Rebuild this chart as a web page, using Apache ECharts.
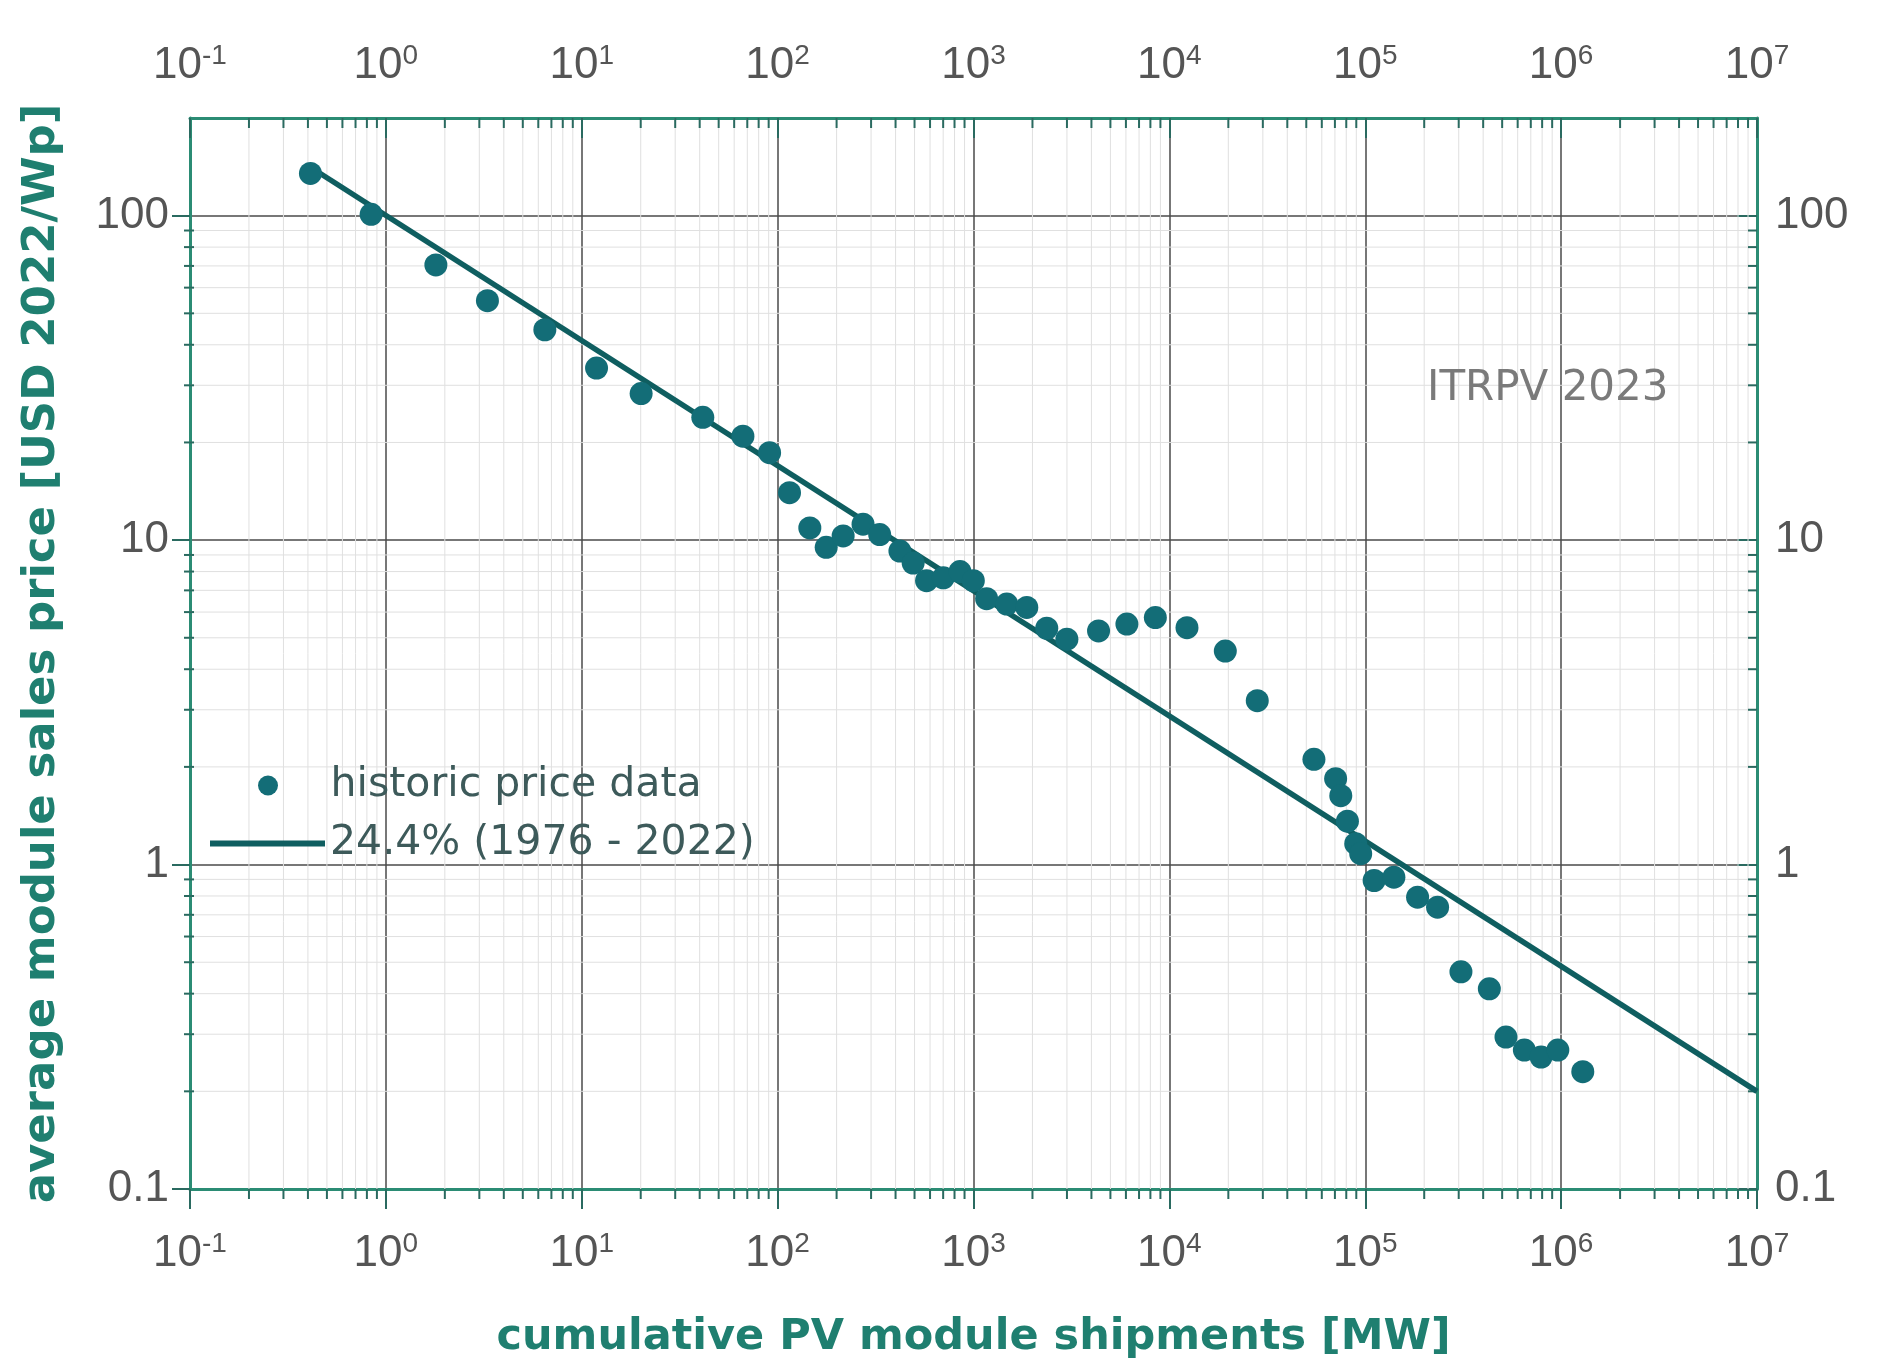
<!DOCTYPE html>
<html><head><meta charset="utf-8">
<script src="https://cdn.jsdelivr.net/npm/echarts/dist/echarts.min.js"></script>
<style>html,body{margin:0;padding:0;background:#fff}#c{width:1887px;height:1368px}</style>
</head><body><div id="c"></div>
<script>
// cumulative PV module shipments [MW]
const shipments = [0.412, 0.841, 1.80, 3.30, 6.48, 11.9, 20.1, 41.5, 66.5, 91,
  115, 146, 177, 216, 273, 332, 421, 492, 576, 701,
  853, 998, 1167, 1479, 1871, 2366, 2997, 4349, 6070, 8480,
  12300, 19300, 28100, 54700, 70600, 75000, 81100, 89400, 94800, 111000,
  140000, 185000, 234000, 308000, 430000, 523000, 649000, 790000, 962000, 1290000];
// average module sales price [USD 2022/Wp]
const prices = [135, 101, 70.5, 54.7, 44.5, 33.9, 28.3, 23.9, 20.9, 18.6,
  14.0, 10.9, 9.5, 10.3, 11.2, 10.4, 9.25, 8.5, 7.5, 7.65,
  8.0, 7.5, 6.6, 6.35, 6.2, 5.35, 4.95, 5.25, 5.51, 5.77,
  5.37, 4.55, 3.20, 2.11, 1.84, 1.63, 1.36, 1.16, 1.08, 0.893,
  0.914, 0.793, 0.739, 0.467, 0.414, 0.294, 0.268, 0.255, 0.268, 0.230];
// learning curve fit endpoints
const fitX = [0.42, 1e7];
const fitY = [140, 0.2];
const xRange = [0.1, 1e7];
const yRange = [0.1, 200];
const yTickValues = [0.1, 1, 10, 100];
const scatterName = 'historic price data';
const fitName = '24.4% (1976 - 2022)';
const watermark = 'ITRPV 2023';
const xTitle = 'cumulative PV module shipments [MW]';
const yTitle = 'average module sales price [USD 2022/Wp]';

// minor grid positions (2..9 of each decade)
const minorX = [];
for (let k = -1; k < 7; k++) for (let m = 2; m <= 9; m++) minorX.push(+(m * Math.pow(10, k)).toPrecision(3));
const minorY = [];
for (let k = -1; k < 2; k++) for (let m = 2; m <= 9; m++) minorY.push(+(m * Math.pow(10, k)).toPrecision(3));

const NARROW = "'Liberation Sans Narrow','Arial Narrow','Liberation Sans',sans-serif";
const WIDE = "'DejaVu Sans',sans-serif";
const AXIS = '#2b8c74';
const TICK = '#2a6a60';
const LABEL = '#555';
const TITLE = '#1f7f70';
const LEGEND_TEXT = {fontFamily: WIDE, fontSize: 41, color: '#3d5a5a', lineHeight: 40};

const supRich = {
  b: {fontFamily: NARROW, fontSize: 44, color: LABEL, lineHeight: 48},
  s: {fontFamily: NARROW, fontSize: 28, color: LABEL, lineHeight: 18, verticalAlign: 'top'}
};
const powFmt = v => '{b|10}{s|' + Math.round(Math.log10(v)) + '}';
const yFmt = v => {
  const e = Math.log10(v);
  if (Math.abs(e - Math.round(e)) > 1e-6) return '';
  return v < 1 ? '0.1' : String(Math.round(v));
};

const minorData = minorX.map(v => [v, 1, 0]).concat(minorY.map(v => [1, v, 1]));

function minorRender(params, api) {
  const t = api.value(2);
  const gridStyle = {stroke: '#e0e0e0', lineWidth: 1};
  const tickStyle = {stroke: TICK, lineWidth: 2};
  if (t === 0) {
    const v = api.value(0);
    const b = api.coord([v, yRange[0]]), tp = api.coord([v, yRange[1]]);
    return {type: 'group', children: [
      {type: 'line', shape: {x1: b[0], y1: b[1], x2: tp[0], y2: tp[1]}, style: gridStyle},
      {type: 'line', shape: {x1: b[0], y1: b[1], x2: b[0], y2: b[1] + 10}, style: tickStyle},
      {type: 'line', shape: {x1: tp[0], y1: tp[1], x2: tp[0], y2: tp[1] + 10}, style: tickStyle}
    ]};
  } else {
    const v = api.value(1);
    const l = api.coord([xRange[0], v]), r = api.coord([xRange[1], v]);
    return {type: 'group', children: [
      {type: 'line', shape: {x1: l[0], y1: l[1], x2: r[0], y2: r[1]}, style: gridStyle},
      {type: 'line', shape: {x1: l[0] - 6, y1: l[1], x2: l[0] + 4, y2: l[1]}, style: tickStyle},
      {type: 'line', shape: {x1: r[0], y1: r[1], x2: r[0] - 9, y2: r[1]}, style: tickStyle}
    ]};
  }
}

const chart = echarts.init(document.getElementById('c'), null, {renderer: 'canvas'});
chart.setOption({
  backgroundColor: '#ffffff',
  animation: false,
  grid: {left: 190, right: 130, top: 118, bottom: 179, containLabel: false, outerBoundsMode: 'none'},
  title: {
    text: watermark, left: 1422, top: 363,
    textStyle: {fontFamily: WIDE, fontSize: 42, fontWeight: 'normal', color: '#7a7a7a'}
  },
  legend: [{
    left: 253, top: 760, orient: 'vertical',
    itemWidth: 115, itemHeight: 20,
    textStyle: LEGEND_TEXT,
    data: [{name: scatterName, icon: 'circle'}]
  }, {
    left: 205, top: 818, orient: 'vertical',
    itemWidth: 115, itemHeight: 6,
    textStyle: LEGEND_TEXT,
    data: [{name: fitName, icon: 'rect'}]
  }],
  xAxis: [{
    type: 'log', min: xRange[0], max: xRange[1], position: 'bottom',
    name: xTitle, nameLocation: 'middle', nameGap: 127, nameMoveOverlap: false,
    nameTextStyle: {fontFamily: WIDE, fontWeight: 'bold', fontSize: 43, color: TITLE},
    axisLine: {show: true, lineStyle: {color: AXIS, width: 3}},
    axisTick: {show: true, inside: false, length: 20, lineStyle: {color: TICK, width: 2}},
    axisLabel: {margin: 41, formatter: powFmt, rich: supRich},
    splitLine: {show: true, lineStyle: {color: '#4a4a4a', width: 1.5}},
    minorTick: {show: false}, minorSplitLine: {show: false}
  }, {
    type: 'log', min: xRange[0], max: xRange[1], position: 'top',
    axisLine: {show: true, lineStyle: {color: AXIS, width: 3}},
    axisTick: {show: true, inside: true, length: 20, lineStyle: {color: TICK, width: 2}},
    axisLabel: {margin: 28, formatter: powFmt, rich: supRich},
    splitLine: {show: false}
  }],
  yAxis: [{
    type: 'log', min: yRange[0], max: yRange[1], position: 'left',
    name: yTitle, nameLocation: 'middle', nameGap: 125, nameMoveOverlap: false,
    nameTextStyle: {fontFamily: WIDE, fontWeight: 'bold', fontSize: 45, color: TITLE},
    axisLine: {show: true, lineStyle: {color: AXIS, width: 3}},
    axisTick: {show: true, inside: false, length: 18, lineStyle: {color: TICK, width: 2}, customValues: yTickValues},
    axisLabel: {margin: 21, formatter: yFmt, fontFamily: NARROW, fontSize: 44, color: LABEL, customValues: yTickValues},
    splitLine: {show: true, lineStyle: {color: '#4a4a4a', width: 1.5}}
  }, {
    type: 'log', min: yRange[0], max: yRange[1], position: 'right',
    axisLine: {show: true, lineStyle: {color: AXIS, width: 3}},
    axisTick: {show: true, inside: true, length: 20, lineStyle: {color: TICK, width: 2}, customValues: yTickValues},
    axisLabel: {margin: 18, formatter: yFmt, fontFamily: NARROW, fontSize: 44, color: LABEL, customValues: yTickValues},
    splitLine: {show: false}
  }],
  series: [{
    type: 'custom', name: 'minor', silent: true, z: 1,
    xAxisIndex: 0, yAxisIndex: 0, encode: {x: 0, y: 1},
    renderItem: minorRender, data: minorData, clip: false
  }, {
    type: 'scatter', name: scatterName, xAxisIndex: 0, yAxisIndex: 0,
    symbol: 'circle', symbolSize: 23, z: 4,
    itemStyle: {color: '#136d77', opacity: 1},
    data: shipments.map((x, i) => [x, prices[i]])
  }, {
    type: 'line', name: fitName, xAxisIndex: 0, yAxisIndex: 0,
    symbol: 'none', z: 3,
    lineStyle: {color: '#0f5e60', width: 5.5},
    itemStyle: {color: '#0f5e60'},
    data: fitX.map((x, i) => [x, fitY[i]])
  }]
});
</script></body></html>
